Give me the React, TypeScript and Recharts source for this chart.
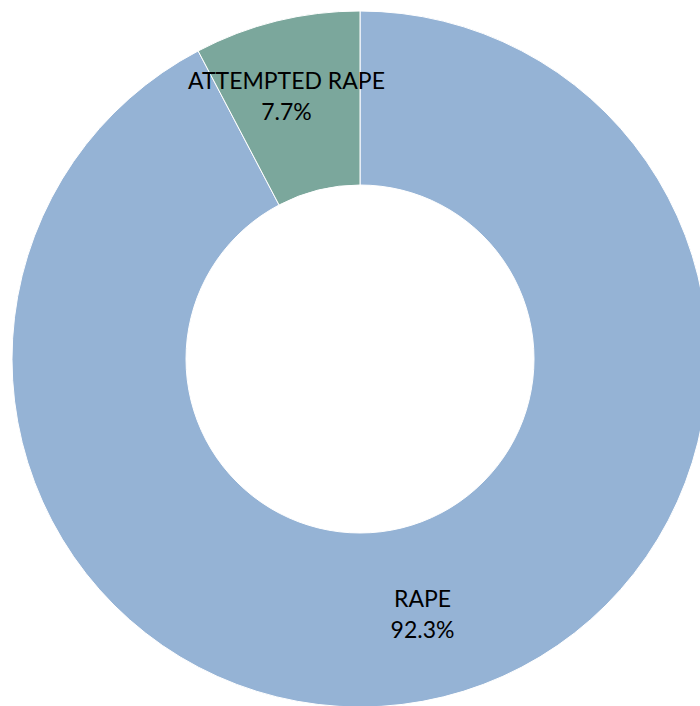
import { PieChart, Pie, Cell } from "recharts";

const categories = ["RAPE", "ATTEMPTED RAPE"];
const values = [92.3, 7.7];
const colors = ["#95b3d5", "#7ba79c"];

// small per-label nudges, Excel moved the small label a bit
const nudges = [
  { dx: 0, dy: 0 },
  { dx: -11, dy: -12 },
];

const data = categories.map((name, i) => ({ name, value: values[i] }));

const RADIAN = Math.PI / 180;

function renderLabel(props: any) {
  const { cx, cy, midAngle, innerRadius, outerRadius, index, percent, name } = props;
  const r = (innerRadius + outerRadius) / 2;
  const x = cx + r * Math.cos(-midAngle * RADIAN) + nudges[index].dx;
  const y = cy + r * Math.sin(-midAngle * RADIAN) + nudges[index].dy;
  return (
    <text
      x={x}
      y={y - 5}
      textAnchor="middle"
      fill="#000"
      style={{ fontFamily: "Lato, 'Open Sans', sans-serif", fontSize: 23 }}
    >
      <tspan x={x}>{name}</tspan>
      <tspan x={x} dy={31}>{`${(percent * 100).toFixed(1)}%`}</tspan>
    </text>
  );
}

export default function App() {
  return (
    <div style={{ position: "fixed", left: 0, top: 0, width: 700, height: 706, background: "#fff" }}>
      <PieChart width={700} height={706} margin={{ top: 0, right: 0, bottom: 0, left: 0 }}>
        <Pie
          data={data}
          dataKey="value"
          nameKey="name"
          cx={360}
          cy={359}
          innerRadius={174}
          outerRadius={348}
          startAngle={90}
          endAngle={-270}
          stroke="#fff"
          strokeWidth={1}
          label={renderLabel}
          labelLine={false}
          isAnimationActive={false}
        >
          {data.map((entry, i) => (
            <Cell key={entry.name} fill={colors[i]} />
          ))}
        </Pie>
      </PieChart>
    </div>
  );
}
